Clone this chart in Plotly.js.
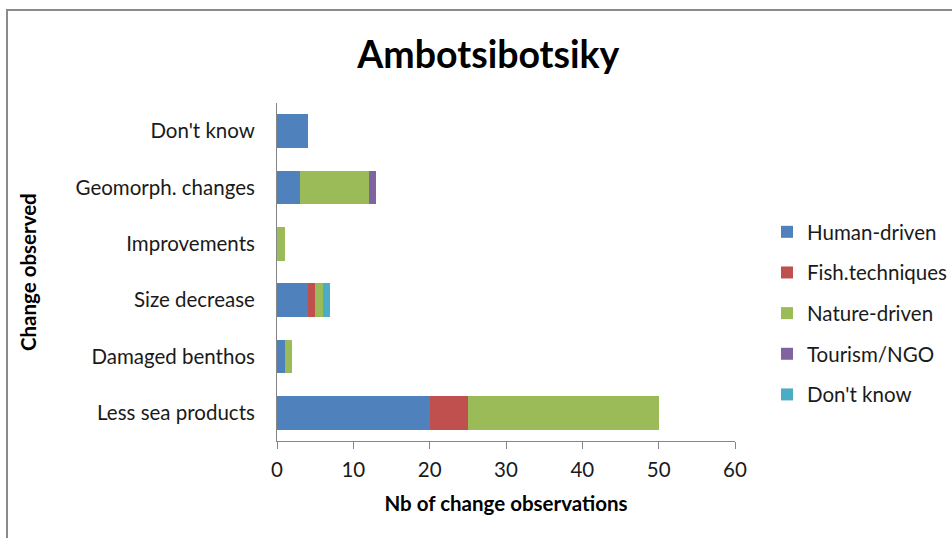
<!DOCTYPE html>
<html>
<head>
<meta charset="utf-8">
<script src="https://cdn.plot.ly/plotly-3.0.1.min.js"></script>
<style>
html,body{margin:0;padding:0;background:#fff;}
#wrap{position:relative;width:952px;height:538px;overflow:hidden;}
#chart{position:absolute;left:0;top:0;width:952px;height:538px;}
#frame{position:absolute;left:6px;top:9px;width:1000px;height:600px;border-left:2px solid #8a8a8a;border-top:2px solid #8a8a8a;pointer-events:none;}
</style>
</head>
<body>
<div id="wrap"><div id="chart"></div><div id="frame"></div></div>
<script>
const categories = ["Less sea products","Damaged benthos","Size decrease","Improvements","Geomorph. changes","Don't know"];
const humanDriven = [20, 1, 4, 0, 3, 4];
const fishTechniques = [5, 0, 1, 0, 0, 0];
const natureDriven = [25, 1, 1, 1, 9, 0];
const tourismNGO = [0, 0, 0, 0, 1, 0];
const dontKnow = [0, 0, 1, 0, 0, 0];
const seriesNames = ["Human-driven","Fish.techniques","Nature-driven","Tourism/NGO","Don't know"];
const seriesValues = [humanDriven, fishTechniques, natureDriven, tourismNGO, dontKnow];
const colors = ["#4F81BD","#C0504D","#9BBB59","#8064A2","#4BACC6"];
const xTicks = [0,10,20,30,40,50,60];

const font = "Lato, 'Open Sans', 'Liberation Sans', sans-serif";
const FS = 20.5;
const traces = seriesNames.map((n,i)=>({
  type:'bar', orientation:'h', name:n, y:categories, x:seriesValues[i],
  marker:{color:colors[i], line:{width:0}}, legendgroup:'g'+i, width:0.6
}));

const layout = {
  width:952, height:538,
  margin:{l:277, r:217, t:103, b:97},
  paper_bgcolor:'#fff', plot_bgcolor:'#fff',
  barmode:'stack',
  font:{family:font, size:FS, color:'#1a1a1a'},
  title:{text:'<b>Ambotsibotsiky</b>', font:{family:font, size:37.5, color:'#000'}, xref:'container', x:0.513, xanchor:'center', yref:'container', y:0.898, yanchor:'middle'},
  xaxis:{range:[0,60], tickvals:xTicks, ticktext:xTicks.map(String), showgrid:false, zeroline:false,
    showline:true, linecolor:'#868686', linewidth:1, ticks:'outside', ticklen:7, tickcolor:'#868686',
    ticklabelstandoff:3, automargin:false,
    tickfont:{size:FS, color:'#1a1a1a'},
    title:{text:'<b>Nb of change observations</b>', font:{size:FS, color:'#000'}, standoff:17}},
  yaxis:{type:'category', categoryorder:'array', categoryarray:categories, showgrid:false, zeroline:false,
    showline:true, linecolor:'#868686', linewidth:1, ticks:'', ticklabelstandoff:17, automargin:false,
    tickfont:{size:FS, color:'#1a1a1a'}},
  annotations:[{text:'<b>Change observed</b>', xref:'paper', yref:'paper', x:(28-277)/458, y:0.5,
    xanchor:'center', yanchor:'middle', textangle:-90, showarrow:false, font:{size:FS, color:'#000'}}],
  legend:{xref:'container', yref:'container', x:767/952, xanchor:'left', y:1-212/538, yanchor:'top',
    traceorder:'grouped', tracegroupgap:11,
    font:{size:FS, color:'#1a1a1a'}, itemwidth:30, bgcolor:'rgba(0,0,0,0)'},
  showlegend:true
};
Plotly.newPlot('chart', traces, layout, {displayModeBar:false, staticPlot:true});
</script>
</body>
</html>
